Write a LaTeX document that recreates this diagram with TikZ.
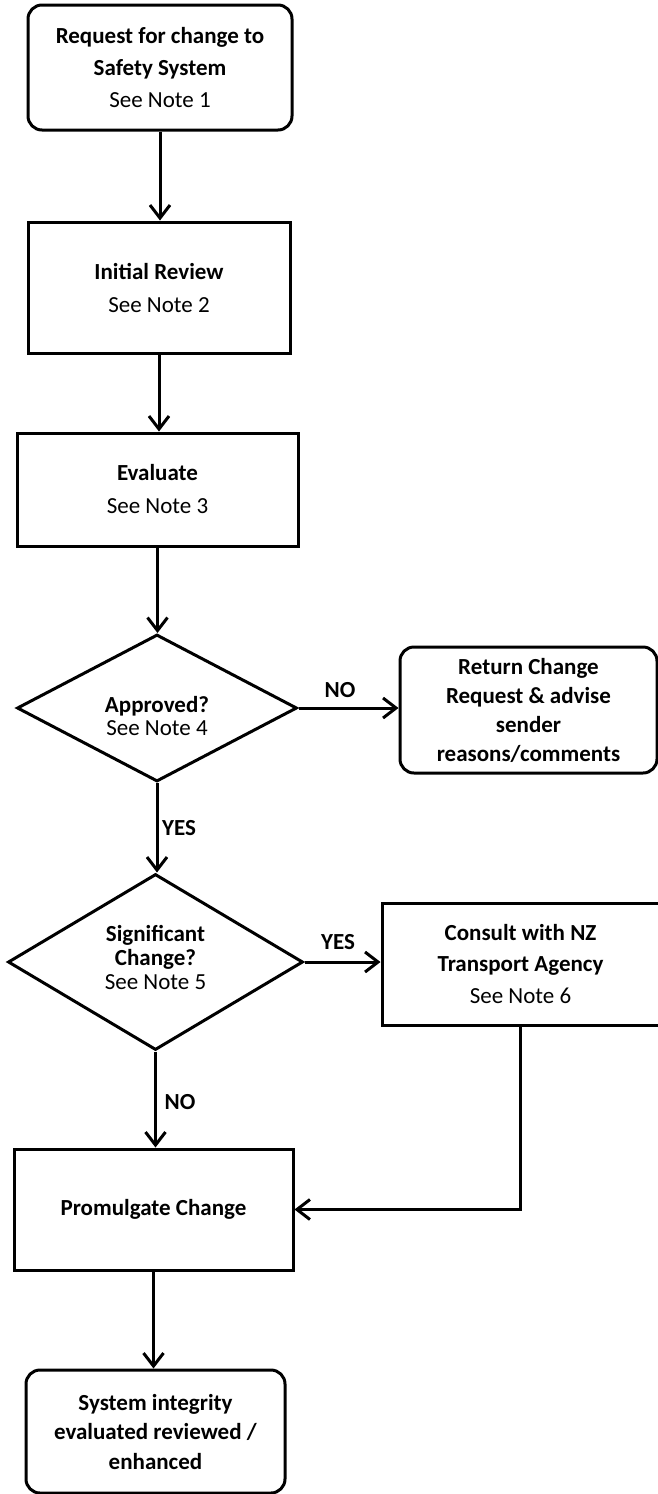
\documentclass[tikz,border=0pt]{standalone}
\usepackage{fontspec}
\setmainfont{Carlito}
\usetikzlibrary{shapes.geometric,arrows.meta}
\begin{document}
\begin{tikzpicture}[x=0.5pt,y=-0.5pt,
  every node/.style={align=center, inner sep=0pt},
  txt/.style={font=\fontsize{11.5}{#1}\selectfont},
  proc/.style={draw, line width=1.5pt, rectangle},
  term/.style={draw, line width=1.5pt, rounded corners=7pt},
  dec/.style={draw, line width=1.5pt, diamond, aspect=2},
  flow/.style={line width=1.5pt, -{Straight Barb[length=6.5pt,width=10pt,line width=1.5pt]}},
  lab/.style={font=\fontsize{11.5}{14}\selectfont\bfseries}
]
\useasboundingbox (0,0) rectangle (658,1494);

\node[term, txt=16pt, minimum width=132pt, minimum height=62.5pt] (n1) at (160,67.5) {\textbf{Request for change to}\\ \textbf{Safety System}\\ See Note 1};
\node[proc, txt=16.5pt, minimum width=131pt, minimum height=65.5pt] (n2) at (159,287.5) {\textbf{Initial Review}\\ See Note 2};
\node[proc, txt=16.5pt, minimum width=140.5pt, minimum height=56.5pt] (n3) at (157.5,489.5) {\textbf{Evaluate}\\ See Note 3};
\node[dec, minimum width=140pt, minimum height=73.5pt] (d1) at (157,708) {};
\node[txt=11.5pt] (d1t) at (157,716) {\textbf{Approved?}\\ See Note 4};
\node[term, txt=14.5pt, minimum width=128.5pt, minimum height=63pt] (n4) at (528.5,710) {\textbf{Return Change}\\ \textbf{Request \& advise}\\ \textbf{sender}\\ \textbf{reasons/comments}};
\node[dec, minimum width=147.5pt, minimum height=88pt] (d2) at (155.5,962) {};
\node[txt=12pt] (d2t) at (155.5,957) {\textbf{Significant}\\ \textbf{Change?}\\ See Note 5};
\node[proc, txt=15.75pt, minimum width=138.5pt, minimum height=61pt] (n5) at (520.5,964) {\textbf{Consult with NZ}\\ \textbf{Transport Agency}\\ See Note 6};
\node[proc, txt=16pt, minimum width=139.5pt, minimum height=60.5pt] (n6) at (153.5,1209.5) {\textbf{Promulgate Change}};
\node[term, txt=14.75pt, minimum width=129.5pt, minimum height=61.5pt] (n7) at (155.5,1431.5) {\textbf{System integrity}\\ \textbf{evaluated reviewed /}\\ \textbf{enhanced}};

\node[lab] (lno1) at (340,690) {NO};
\node[lab] (lyes1) at (179,828) {YES};
\node[lab] (lyes2) at (338,942) {YES};
\node[lab] (lno2) at (180,1102) {NO};

\draw[flow] (n1.south) -- (n1.south |- n2.north);
\draw[flow] (n2.south) -- (n2.south |- n3.north);
\draw[flow] (n3.south) -- (n3.south |- d1.north);
\draw[flow] (d1.south) -- (d1.south |- d2.north);
\draw[flow] (d1.east) -- (d1.east -| n4.west);
\draw[flow] (d2.east) -- (d2.east -| n5.west);
\draw[flow] (d2.south) -- (d2.south |- n6.north);
\draw[flow] (n5.south) |- (n6.east);
\draw[flow] (n6.south) -- (n6.south |- n7.north);
\end{tikzpicture}
\end{document}
